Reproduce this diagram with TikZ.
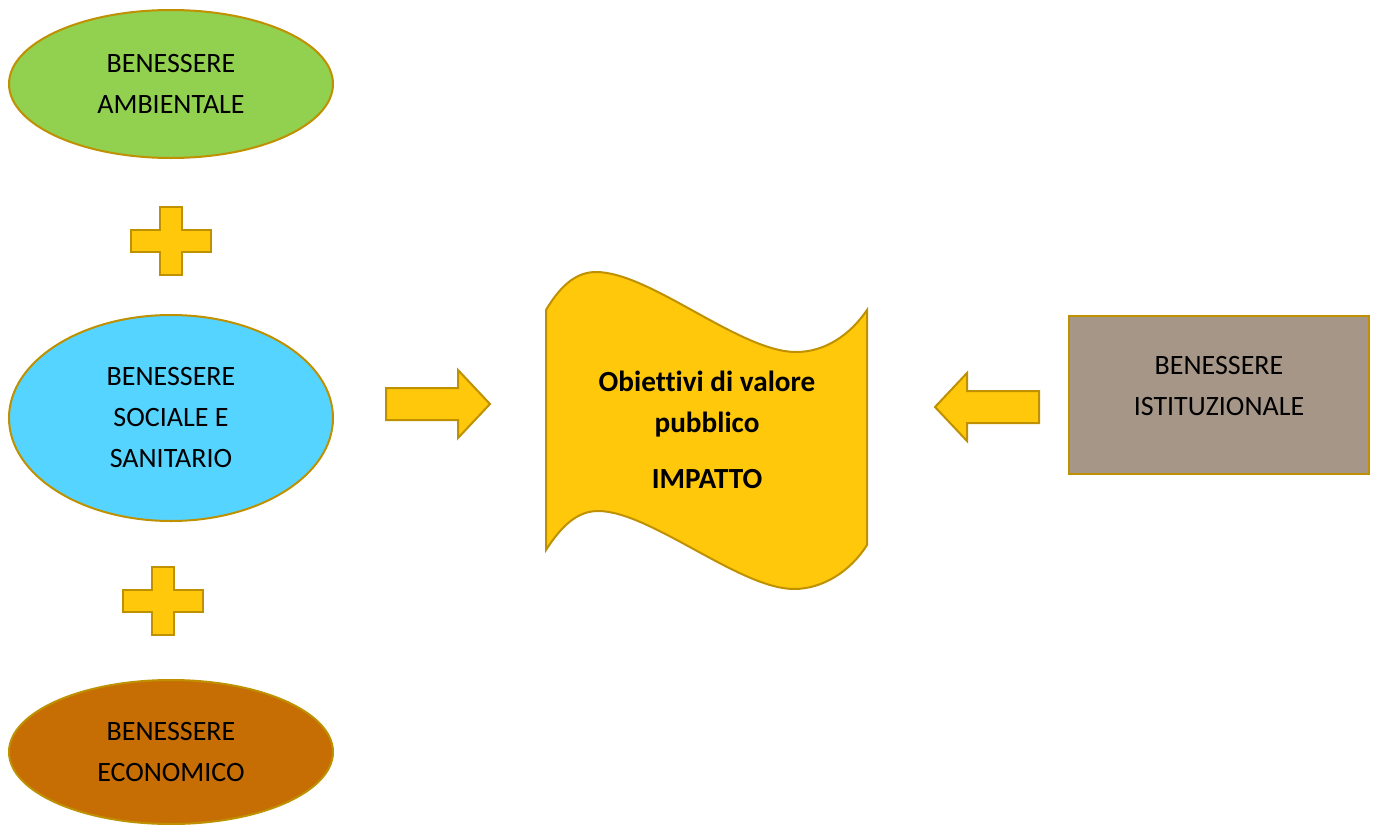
\documentclass[tikz,border=0pt]{standalone}
\usepackage{fontspec}
\setmainfont{Carlito}[Ligatures=CommonOff]
\usepackage{tikz}
\usetikzlibrary{shapes,shapes.geometric,positioning}
\definecolor{gold}{HTML}{BF9000}
\definecolor{amber}{HTML}{FFC80A}
\definecolor{leaf}{HTML}{92D050}
\definecolor{sky}{HTML}{55D4FF}
\definecolor{rust}{HTML}{C66E04}
\definecolor{taupe}{HTML}{A69688}
\newcommand{\plussign}[1]{
  \begin{scope}[shift={#1}]
    \draw [line width=1pt,draw=gold,fill=amber]
          (-11,-34) -- (11,-34) -- (11,-11) -- (40,-11) -- (40,11) -- (11,11)
          -- (11,34) -- (-11,34) -- (-11,11) -- (-40,11) -- (-40,-11)
          -- (-11,-11) -- cycle;
  \end{scope}}
\newcommand{\blockarrow}[2]{
  \begin{scope}[shift={#1},xscale=#2]
    \draw [line width=1pt,draw=gold,fill=amber]
          (0,0) -- (-32,-34) -- (-32,-16) -- (-104,-16) -- (-104,16)
          -- (-32,16) -- (-32,34) -- cycle;
  \end{scope}}

\begin{document}
\begin{tikzpicture}
[x=0.5pt,y=-0.5pt,
every node/.style={font=\fontsize{14}{20.5}\selectfont,align=center},
blob/.style={shape=ellipse,draw=gold,line width=1pt,inner sep=0pt,
  minimum width=162pt},
ambiente/.style={blob,fill=leaf,minimum height=74pt},
sociale/.style={blob,fill=sky,minimum height=103pt},
economia/.style={blob,fill=rust,minimum height=72pt},
istituz/.style={shape=rectangle,draw=gold,line width=1pt,fill=taupe,
  minimum width=150pt,minimum height=79pt},
banner/.style={draw=gold,line width=1pt,fill=amber}]
\useasboundingbox (0,0) rectangle (1377,825);

\draw (171,84) node (amb) [ambiente] {BENESSERE\\AMBIENTALE};
\draw (171,418) node (soc) [sociale] {BENESSERE\\SOCIALE E\\SANITARIO};
\draw (171,752) node (eco) [economia] {BENESSERE\\ECONOMICO};
\plussign{(171,241)}
\plussign{(163,601)}

% obiettivi
\draw [banner] (546,310) .. controls (562,283) and (578,272) .. (596,272)
               .. controls (650,272) and (740,352) .. (796,352)
               .. controls (825,352) and (850,335) .. (867,310)
               -- (867,545)
               .. controls (850,572) and (822,589) .. (794,589)
               .. controls (740,589) and (650,511) .. (598,511)
               .. controls (578,511) and (562,525) .. (546,550) -- cycle;
\draw (707,430) node (obj) [font=\fontsize{14.6}{20.5}\selectfont\bfseries]
      {Obiettivi di valore\\pubblico\\[7.5pt]IMPATTO};

\draw (1219,395) node (ist) [istituz] {};
\draw (ist.center) node (istlabel) [yshift=4.5pt] {BENESSERE\\ISTITUZIONALE};

\blockarrow{(490,404)}{1}
\blockarrow{(935,407)}{-1}
\end{tikzpicture}
\end{document}
